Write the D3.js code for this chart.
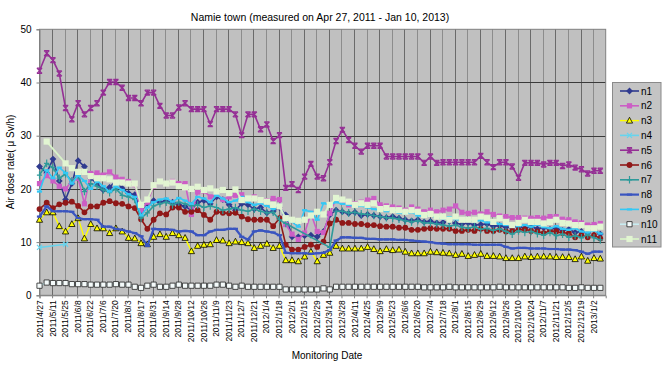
<!DOCTYPE html>
<html><head><meta charset="utf-8">
<script src="https://cdnjs.cloudflare.com/ajax/libs/d3/7.8.5/d3.min.js"></script>
<style>
body{margin:0;background:#fff;}
svg{display:block;}
text{font-family:"Liberation Sans",Arial,sans-serif;fill:#000;}
</style>
</head><body>
<svg id="chart" width="671" height="368"></svg>
<script>
// ---------------- DATA ----------------
const dates = ["2011/4/27","2011/5/5","2011/5/12","2011/5/19","2011/5/26","2011/6/2","2011/6/9","2011/6/16","2011/6/23","2011/6/30",
"2011/7/7","2011/7/14","2011/7/21","2011/7/28","2011/8/4","2011/8/11","2011/8/18","2011/8/25","2011/9/1","2011/9/8",
"2011/9/15","2011/9/22","2011/9/29","2011/10/6","2011/10/13","2011/10/20","2011/10/27","2011/11/3","2011/11/10","2011/11/17",
"2011/11/24","2011/12/1","2011/12/8","2011/12/15","2011/12/22","2011/12/29","2012/1/5","2012/1/12","2012/1/19","2012/1/26",
"2012/2/2","2012/2/9","2012/2/16","2012/2/23","2012/3/1","2012/3/8","2012/3/15","2012/3/22","2012/3/29","2012/4/5",
"2012/4/12","2012/4/19","2012/4/26","2012/5/3","2012/5/10","2012/5/17","2012/5/24","2012/5/31","2012/6/7","2012/6/14",
"2012/6/21","2012/6/28","2012/7/5","2012/7/12","2012/7/19","2012/7/26","2012/8/2","2012/8/9","2012/8/16","2012/8/23",
"2012/8/30","2012/9/6","2012/9/13","2012/9/20","2012/9/27","2012/10/4","2012/10/11","2012/10/18","2012/10/25","2012/11/1",
"2012/11/8","2012/11/15","2012/11/22","2012/11/29","2012/12/6","2012/12/13","2012/12/20","2012/12/27","2013/1/3","2013/1/10"];

const tickLabels = ["2011/4/27","2011/5/11","2011/5/25","2011/6/8","2011/6/22","2011/7/6","2011/7/20","2011/8/3","2011/8/17","2011/8/31",
"2011/9/14","2011/9/28","2011/10/12","2011/10/26","2011/11/9","2011/11/23","2011/12/7","2011/12/21","2012/1/4","2012/1/18",
"2012/2/1","2012/2/15","2012/2/29","2012/3/14","2012/3/28","2012/4/11","2012/4/25","2012/5/9","2012/5/23","2012/6/6",
"2012/6/20","2012/7/4","2012/7/18","2012/8/1","2012/8/15","2012/8/29","2012/9/12","2012/9/26","2012/10/10","2012/10/24",
"2012/11/7","2012/11/21","2012/12/5","2012/12/19","2013/1/2"];
const axisEnd = "2013/1/16";
const yTicks = [0,10,20,30,40,50];

const n1 = [24.2,23.0,25.6,21.5,18.0,21.0,25.3,24.2,22.0,21.0,
19.8,20.3,21.5,20.1,19.2,18.9,15.8,17.3,17.8,17.5,
17.8,17.5,17.0,16.7,16.0,17.5,17.8,17.2,18.5,18.0,
17.0,16.0,17.2,17.0,16.2,16.5,15.5,15.8,16.5,15.1,
11.0,11.0,11.2,11.3,11.0,12.0,15.1,16.0,15.7,15.4,
15.6,15.0,15.2,15.0,14.8,14.6,14.8,14.5,14.2,14.0,
14.2,13.8,13.9,13.6,13.7,13.9,13.5,13.4,13.6,13.2,
13.3,13.4,13.0,13.1,12.8,12.7,13.0,12.6,12.9,12.5,
12.7,12.4,12.6,12.2,12.4,11.8,12.0,11.7,12.3,11.5];
const n2 = [21.0,22.5,21.5,20.5,20.0,21.5,22.0,17.2,22.9,23.0,
22.6,23.2,22.2,21.8,21.4,20.8,16.0,17.5,20.5,21.4,
21.0,21.4,21.0,21.0,15.2,19.4,19.6,18.5,19.0,18.0,
18.5,18.8,18.9,18.0,18.5,17.5,17.8,18.2,18.0,13.3,
11.5,10.5,11.7,15.4,12.0,11.8,15.4,18.2,17.6,17.0,
17.2,17.5,17.9,18.2,17.0,16.8,16.6,16.4,16.0,16.6,
16.2,15.7,16.0,15.7,16.0,16.2,16.8,15.6,15.4,15.6,
15.3,15.7,15.2,14.9,14.8,14.6,14.6,14.5,14.5,14.6,
14.5,14.8,14.8,14.3,14.2,13.8,13.6,13.2,13.3,13.5];
const n3 = [14.2,15.6,15.6,13.0,12.0,13.4,14.5,10.7,13.4,12.6,
12.6,11.7,12.6,12.0,10.8,10.7,9.8,9.6,11.0,11.5,
11.0,11.7,11.3,10.8,8.3,9.3,9.5,9.6,10.4,10.3,
9.8,10.1,10.0,9.8,8.9,9.3,9.7,8.9,9.3,6.6,
6.6,6.4,7.3,8.2,6.4,7.6,8.0,9.3,8.8,8.8,
8.8,8.8,9.1,8.7,8.3,8.7,8.5,8.6,8.2,7.9,
7.9,7.9,8.2,8.1,8.0,7.9,7.6,7.8,7.4,7.6,
7.8,7.4,7.4,7.3,7.0,7.0,7.0,7.3,7.2,7.3,
7.3,7.3,7.2,7.2,7.2,6.8,7.3,6.5,7.0,6.9];
const n4 = [9.0,null,null,null,9.6];
const n5 = [42.2,45.5,44.2,41.7,35.2,33.1,36.1,34.0,35.2,36.1,
38.1,40.1,40.1,39.0,37.1,37.1,36.1,38.1,38.1,35.6,
33.8,33.8,35.3,36.1,35.0,35.0,35.0,32.2,35.0,35.0,
35.0,34.0,30.1,34.0,34.0,31.2,32.1,29.0,30.1,20.2,
20.9,19.8,22.3,24.7,22.3,22.0,25.0,29.0,31.1,29.2,
28.1,27.0,28.1,28.1,28.1,26.1,26.1,26.1,26.1,26.1,
26.1,24.9,26.1,24.9,25.0,25.0,25.0,25.0,25.0,25.0,
26.2,25.0,24.1,25.0,25.0,24.2,22.1,24.9,24.9,24.9,
24.6,24.9,24.9,24.3,24.6,24.0,23.7,22.9,23.4,23.4];
const n6 = [16.2,17.4,16.4,17.1,17.4,17.6,16.8,15.6,16.7,16.7,
17.4,17.7,17.3,17.2,16.7,16.4,14.3,12.5,14.2,15.4,
15.2,16.5,16.5,15.7,15.7,16.0,15.1,14.2,15.7,15.5,
15.4,15.5,14.8,14.3,14.2,14.2,14.2,13.0,14.5,9.5,
8.6,8.6,9.1,9.5,9.1,10.1,13.5,14.2,13.6,13.6,
13.4,13.4,13.2,13.2,13.0,12.9,12.9,12.7,12.7,12.3,
12.3,12.5,12.6,12.5,12.5,12.5,12.1,12.1,12.3,12.1,
12.5,12.1,12.1,12.3,12.0,12.1,12.3,12.4,12.1,12.0,
11.7,12.1,12.0,11.7,11.7,10.9,11.3,10.9,11.3,10.7];
const n7 = [22.6,24.8,24.0,22.0,22.8,21.5,22.5,19.5,21.0,20.5,
19.8,19.3,20.0,18.8,18.5,18.0,14.5,15.5,16.8,17.2,
17.5,17.0,17.5,17.2,16.8,17.0,16.5,16.8,16.5,16.0,
16.2,16.5,16.0,15.8,16.2,15.8,15.5,15.6,14.2,13.5,
null,null,null,null,null,null,9.0,15.8,15.8,15.5,
15.6,15.3,15.2,15.0,14.8,14.6,14.5,14.3,14.0,13.8,
14.0,13.6,13.6,13.4,13.2,13.0,13.2,12.8,12.6,12.9,
12.4,12.6,12.2,12.5,12.0,11.5,12.1,11.8,12.0,11.6,
11.3,11.8,11.2,11.5,10.9,11.2,10.8,11.4,10.8,10.4];
const n8 = [14.8,16.7,15.8,15.8,15.8,15.7,14.5,14.3,14.3,14.2,
12.9,12.9,12.5,12.3,12.0,11.7,11.1,9.3,12.5,12.4,
12.4,12.3,12.0,12.1,12.0,11.3,11.3,12.0,12.3,12.3,
12.5,12.5,11.0,10.5,12.0,12.2,12.0,11.8,11.3,8.0,
7.9,7.9,7.9,7.8,7.9,8.0,8.5,10.3,10.9,10.9,
10.8,10.8,10.6,10.6,10.5,10.5,10.5,10.4,10.4,10.3,
10.2,10.1,10.0,9.8,9.7,9.6,9.6,9.6,9.6,9.5,
9.5,9.5,9.5,9.5,9.1,8.8,8.9,8.9,8.8,8.8,
8.8,8.7,8.7,8.6,8.6,8.5,8.2,7.8,8.2,8.2];
const n9 = [19.5,23.5,22.0,24.0,23.0,21.0,22.5,21.5,20.0,21.5,
20.5,19.5,20.5,19.8,19.0,18.5,15.0,16.5,17.5,18.0,
18.2,17.6,18.3,17.8,17.2,18.5,18.2,17.5,18.8,18.2,
17.5,17.8,18.5,17.5,17.0,17.3,16.8,16.2,17.0,14.2,
13.8,12.9,16.0,15.7,14.2,17.3,17.0,17.5,17.2,17.0,
16.6,16.8,16.5,16.2,16.0,15.8,15.9,15.5,15.3,15.6,
15.0,14.8,15.0,14.6,14.4,14.7,14.3,14.0,14.2,13.9,
14.1,13.7,13.8,13.4,13.2,13.5,13.0,13.2,12.9,13.3,
12.8,12.6,13.0,12.5,12.3,12.6,12.0,11.8,12.2,11.6];
const n10 = [1.8,2.4,2.3,2.3,2.3,2.1,2.1,2.1,2.0,2.0,
2.0,2.0,2.1,2.0,2.0,1.6,1.4,1.8,2.0,1.6,
1.6,1.8,2.0,1.8,1.8,1.8,1.8,1.8,2.0,2.0,
1.8,1.6,1.8,1.6,1.6,1.6,1.6,1.6,1.6,1.1,
1.1,1.1,1.1,1.1,1.1,1.3,1.1,1.6,1.6,1.6,
1.6,1.6,1.6,1.6,1.6,1.6,1.6,1.6,1.6,1.6,
1.6,1.5,1.5,1.5,1.5,1.6,1.5,1.5,1.5,1.5,
1.5,1.5,1.5,1.6,1.5,1.5,1.5,1.5,1.5,1.5,
1.5,1.5,1.5,1.5,1.4,1.4,1.5,1.4,1.4,1.4];
const n11 = [null,28.9,null,null,24.8,23.9,23.2,23.2,22.4,22.0,
22.0,21.8,21.2,21.2,21.0,21.0,17.0,18.0,20.7,21.4,
21.0,21.2,20.5,20.3,20.0,20.4,19.8,20.1,19.5,19.8,
19.2,19.9,17.9,18.2,18.2,17.9,17.6,17.0,16.7,14.5,
14.2,14.0,14.2,15.0,15.7,15.2,17.0,18.3,18.0,17.6,
17.0,17.3,17.0,17.3,16.2,16.4,16.0,16.0,15.7,16.0,
15.7,15.1,15.3,14.8,14.8,14.2,14.8,14.2,14.2,14.2,
14.8,14.5,13.8,14.5,13.8,13.2,13.6,14.2,13.8,13.8,
13.5,13.8,14.2,13.6,13.5,13.2,13.2,12.6,12.6,12.9];

const seriesNames = ["n1","n2","n3","n4","n5","n6","n7","n8","n9","n10","n11"];
const seriesValues = [n1,n2,n3,n4,n5,n6,n7,n8,n9,n10,n11];

// ---------------- STYLE ----------------
const styles = {
  n1:{line:"#2F3A8F",w:1.6,marker:"diamond",fill:"#2F3A8F",stroke:"none"},
  n2:{line:"#CC5EC5",w:1.6,marker:"square",fill:"#CC5EC5",stroke:"none"},
  n3:{line:"#FFFF00",w:1.4,marker:"triangle",fill:"#FFFF00",stroke:"#000"},
  n4:{line:"#66D4EE",w:1.6,marker:"x",fill:"none",stroke:"#66D4EE"},
  n5:{line:"#952F95",w:1.6,marker:"star",fill:"none",stroke:"#952F95"},
  n6:{line:"#901818",w:1.6,marker:"circle",fill:"#901818",stroke:"none"},
  n7:{line:"#2E9A9A",w:1.6,marker:"plus",fill:"none",stroke:"#2E9A9A"},
  n8:{line:"#3A55C0",w:2.2,marker:"dash",fill:"#3A55C0",stroke:"none"},
  n9:{line:"#33C8F5",w:1.6,marker:"dash",fill:"#33C8F5",stroke:"none"},
  n10:{line:"#C8ECF0",w:1.6,marker:"square",fill:"#F4FAFA",stroke:"#222"},
  n11:{line:"#D8F2C8",w:1.8,marker:"bigsquare",fill:"#E2F5D2",stroke:"none"}
};

// ---------------- CHART ----------------
const parse = d3.utcParse("%Y/%m/%d");
const svg = d3.select("#chart");
const L = 39.5, R = 605.7, T = 29.3, B = 295.3;

const x = d3.scaleUtc().domain([parse(dates[0]), parse(axisEnd)]).range([L, R]);
const y = d3.scaleLinear().domain([0, 50]).range([B, T]);

svg.append("rect").attr("x", L).attr("y", T).attr("width", R - L).attr("height", B - T)
  .attr("fill", "#C0C0C0");

// vertical gridlines
const tickDates = tickLabels.map(parse);
svg.append("g").selectAll("line").data(tickDates.slice(1)).join("line")
  .attr("x1", d => Math.round(x(d)) + 0.5).attr("x2", d => Math.round(x(d)) + 0.5)
  .attr("y1", T).attr("y2", B)
  .attr("stroke", (d, i) => i % 2 === 0 ? "#6a6a6a" : "#8c8c8c").attr("stroke-width", 1);

// horizontal gridlines
svg.append("g").selectAll("line").data(yTicks.filter(v => v > 0 && v < 50)).join("line")
  .attr("x1", L).attr("x2", R)
  .attr("y1", d => Math.round(y(d)) + 0.5).attr("y2", d => Math.round(y(d)) + 0.5)
  .attr("stroke", "#3a3a3a").attr("stroke-width", 1);

svg.append("rect").attr("x", L).attr("y", T).attr("width", R - L).attr("height", B - T)
  .attr("fill", "none").attr("stroke", "#808080").attr("stroke-width", 1);

// axes
const xAxis = d3.axisBottom(x).tickValues(tickDates).tickSize(3)
  .tickFormat((d, i) => tickLabels[i]);
const gx = svg.append("g").attr("transform", `translate(0,${B})`).call(xAxis);
gx.select(".domain").attr("stroke", "#808080");
gx.selectAll(".tick line").attr("stroke", "#808080");
gx.selectAll(".tick text")
  .attr("font-size", "8.5px")
  .attr("text-anchor", "end")
  .attr("transform", "rotate(-90)")
  .attr("x", -5).attr("y", 0).attr("dy", "0.35em");

const yAxis = d3.axisLeft(y).tickValues(yTicks).tickSize(3).tickFormat(d3.format("d"));
const gy = svg.append("g").attr("transform", `translate(${L},0)`).call(yAxis);
gy.select(".domain").attr("stroke", "#808080");
gy.selectAll(".tick line").attr("stroke", "#808080");
gy.selectAll(".tick text").attr("font-size", "10px").attr("x", -8);

// markers
function markerPath(type) {
  switch (type) {
    case "diamond": return "M0,-3.4L3.4,0L0,3.4L-3.4,0Z";
    case "square": return "M-2.6,-2.6H2.6V2.6H-2.6Z";
    case "bigsquare": return "M-3.1,-3.1H3.1V3.1H-3.1Z";
    case "triangle": return "M0,-3.3L3.1,2.5L-3.1,2.5Z";
    case "x": return "M-2.5,-2.5L2.5,2.5M2.5,-2.5L-2.5,2.5";
    case "star": return "M-2.6,-2.6L2.6,2.6M2.6,-2.6L-2.6,2.6M-2.6,-2.6H2.6M-2.6,2.6H2.6M0,-2.6V2.6";
    case "circle": return "M2.9,0A2.9,2.9 0 1,1 -2.9,0A2.9,2.9 0 1,1 2.9,0Z";
    case "plus": return "M-2.6,0H2.6M0,-3.8V3.8";
    case "dash": return "M-2.6,-1.1H2.6V1.1H-2.6Z";
  }
}
function drawMarker(g, name) {
  const s = styles[name];
  return g.append("path").attr("d", markerPath(s.marker))
    .attr("fill", s.fill).attr("stroke", s.stroke)
    .attr("stroke-width", (s.marker === "triangle" || s.marker === "square") ? 0.8 : 1.2);
}

const line = d3.line().x(d => x(d.date)).y(d => y(d.v));
const plot = svg.append("g");
seriesNames.forEach((name, k) => {
  const pts = seriesValues[k].map((v, i) => ({date: parse(dates[i]), v}))
    .filter(d => d.v !== null && d.v !== undefined);
  const s = styles[name];
  const g = plot.append("g");
  g.append("path").datum(pts).attr("d", line)
    .attr("fill", "none").attr("stroke", s.line).attr("stroke-width", s.w)
    .attr("stroke-linejoin", "round");
  pts.forEach(p => {
    drawMarker(g, name).attr("transform", `translate(${x(p.date)},${y(p.v)})`);
  });
});

// legend
const lg = svg.append("g");
lg.append("rect").attr("x", 612.5).attr("y", 82.5).attr("width", 48.5).attr("height", 164.5)
  .attr("fill", "#C4C4C4").attr("stroke", "#8a8a8a");
seriesNames.forEach((name, k) => {
  const yy = 91 + k * 14.8;
  const s = styles[name];
  const e = lg.append("g");
  e.append("line").attr("x1", 620).attr("x2", 639).attr("y1", yy).attr("y2", yy)
    .attr("stroke", s.line).attr("stroke-width", s.w);
  drawMarker(e, name).attr("transform", `translate(629.5,${yy})`);
  e.append("text").attr("x", 641).attr("y", yy).attr("dy", "0.35em")
    .attr("font-size", "10px").text(name);
});

// titles
svg.append("text").attr("x", 320).attr("y", 21).attr("text-anchor", "middle")
  .attr("font-size", "10.5px").text("Namie town (measured on Apr 27, 2011 - Jan 10, 2013)");
svg.append("text").attr("transform", "translate(14,162) rotate(-90)").attr("text-anchor", "middle")
  .attr("font-size", "10px").text("Air dose rate( μ Sv/h)");
svg.append("text").attr("x", 327).attr("y", 359).attr("text-anchor", "middle")
  .attr("font-size", "10px").text("Monitoring Date");
</script>
</body></html>
